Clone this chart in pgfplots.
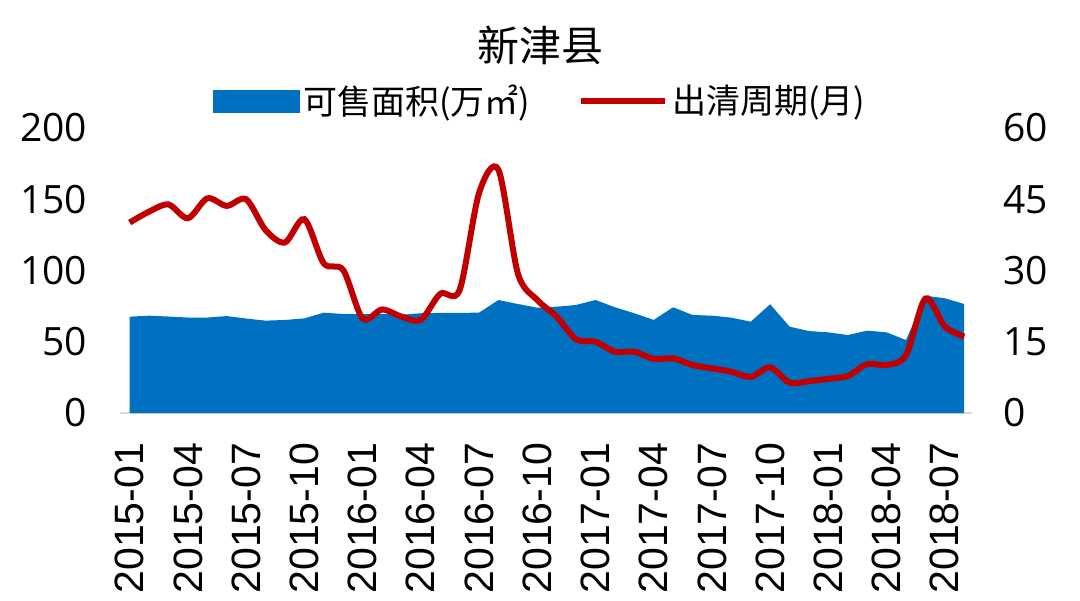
\documentclass[border=0pt]{standalone}
\usepackage{pgfplots}
\pgfplotsset{compat=1.18}
\usepackage{pgfplotstable}
\usepackage{fontspec}
\setmainfont{Open Sans}
\newfontfamily\cjk{Noto Sans CJK SC}
\newfontfamily\arial{Liberation Sans}
\definecolor{cblue}{HTML}{0070C0}
\definecolor{cred}{HTML}{C00000}
\definecolor{cgrid}{HTML}{D9D9D9}

\pgfplotstableread{
x area
0 67.6
1 68.3
2 67.7
3 67.0
4 67.0
5 68.0
6 66.3
7 64.8
8 65.3
9 66.4
10 70.4
11 69.5
12 69.3
13 69.5
14 69.0
15 70.0
16 70.2
17 70.3
18 70.4
19 79.3
20 76.5
21 73.9
22 74.6
23 75.8
24 79.3
25 74.2
26 70.0
27 65.3
28 74.2
29 68.8
30 68.3
31 66.9
32 64.1
33 76.3
34 60.6
35 57.5
36 56.6
37 54.7
38 57.8
39 56.6
40 51.2
41 82.3
42 80.5
43 76.5
}\areadata

\pgfplotstableread{
x months
0 40.1
1 42.4
2 43.9
3 41.0
4 45.2
5 43.6
6 45.0
7 38.5
8 35.9
9 40.8
10 31.5
11 30.1
12 19.9
13 21.8
14 20.3
15 19.6
16 25.1
17 25.9
18 46.3
19 51.2
20 29.4
21 23.8
22 20.3
23 15.5
24 15.0
25 12.9
26 12.9
27 11.4
28 11.5
29 10.1
30 9.4
31 8.7
32 7.6
33 9.6
34 6.4
35 6.7
36 7.2
37 7.8
38 10.3
39 10.1
40 12.2
41 24.1
42 18.2
43 16.1
}\linedata

\begin{document}
\begin{tikzpicture}
\path[use as bounding box] (-60pt,-93.5pt) rectangle (480pt,206.5pt);
\begin{axis}[
  scale only axis,
  width=426pt, height=142.5pt,
  xmin=-0.5, xmax=43.4,
  ymin=0, ymax=200,
  axis lines*=left,
  x axis line style={cgrid, line width=1pt, -},
  y axis line style={draw=none, -},
  major tick length=0pt,
  ytick={0,50,100,150,200},
  xtick={0,3,...,42},
  xticklabels={2015-01,2015-04,2015-07,2015-10,2016-01,2016-04,2016-07,2016-10,2017-01,2017-04,2017-07,2017-10,2018-01,2018-04,2018-07},
  x tick label style={font=\arial\fontsize{20.5}{20.5}\selectfont, rotate=90, anchor=east},
  xticklabel shift=11.5pt,
  y tick label style={font=\fontsize{19.5}{19.5}\selectfont},
  yticklabel shift=13pt,
  /pgf/number format/assume math mode=true,
  clip=false,
]
\addplot[fill=cblue, draw=none] table[x=x, y=area] {\areadata} \closedcycle;
\end{axis}
\begin{axis}[
  scale only axis,
  width=426pt, height=142.5pt,
  xmin=-0.5, xmax=43.4,
  ymin=0, ymax=60,
  axis x line=none,
  axis y line*=right,
  y axis line style={draw=none, -},
  major tick length=0pt,
  ytick={0,15,30,45,60},
  y tick label style={font=\fontsize{19.5}{19.5}\selectfont},
  yticklabel shift=12pt,
  /pgf/number format/assume math mode=true,
  legend columns=2,
  legend style={
    at={(0.494,1.095)}, anchor=center, draw=none, fill=none,
    font=\cjk\fontsize{17}{17}\selectfont,
    /tikz/every even column/.append style={column sep=22pt},
    inner sep=0pt,
  },
  legend cell align=left,
]
\addlegendimage{legend image code/.code={\fill[cblue] (0pt,-5.5pt) rectangle (43pt,5.5pt);}}
\addlegendentry{可售面积(万㎡)}
\addplot[cred, line width=3pt, smooth, tension=0.5,
  legend image code/.code={\draw[cred, line width=3pt] (0pt,0pt) -- (42pt,0pt);}]
  table[x=x, y=months] {\linedata};
\addlegendentry{出清周期(月)}
\end{axis}
\node[font=\cjk\fontsize{21}{21}\selectfont] at (210pt,184pt) {新津县};
\end{tikzpicture}
\end{document}
